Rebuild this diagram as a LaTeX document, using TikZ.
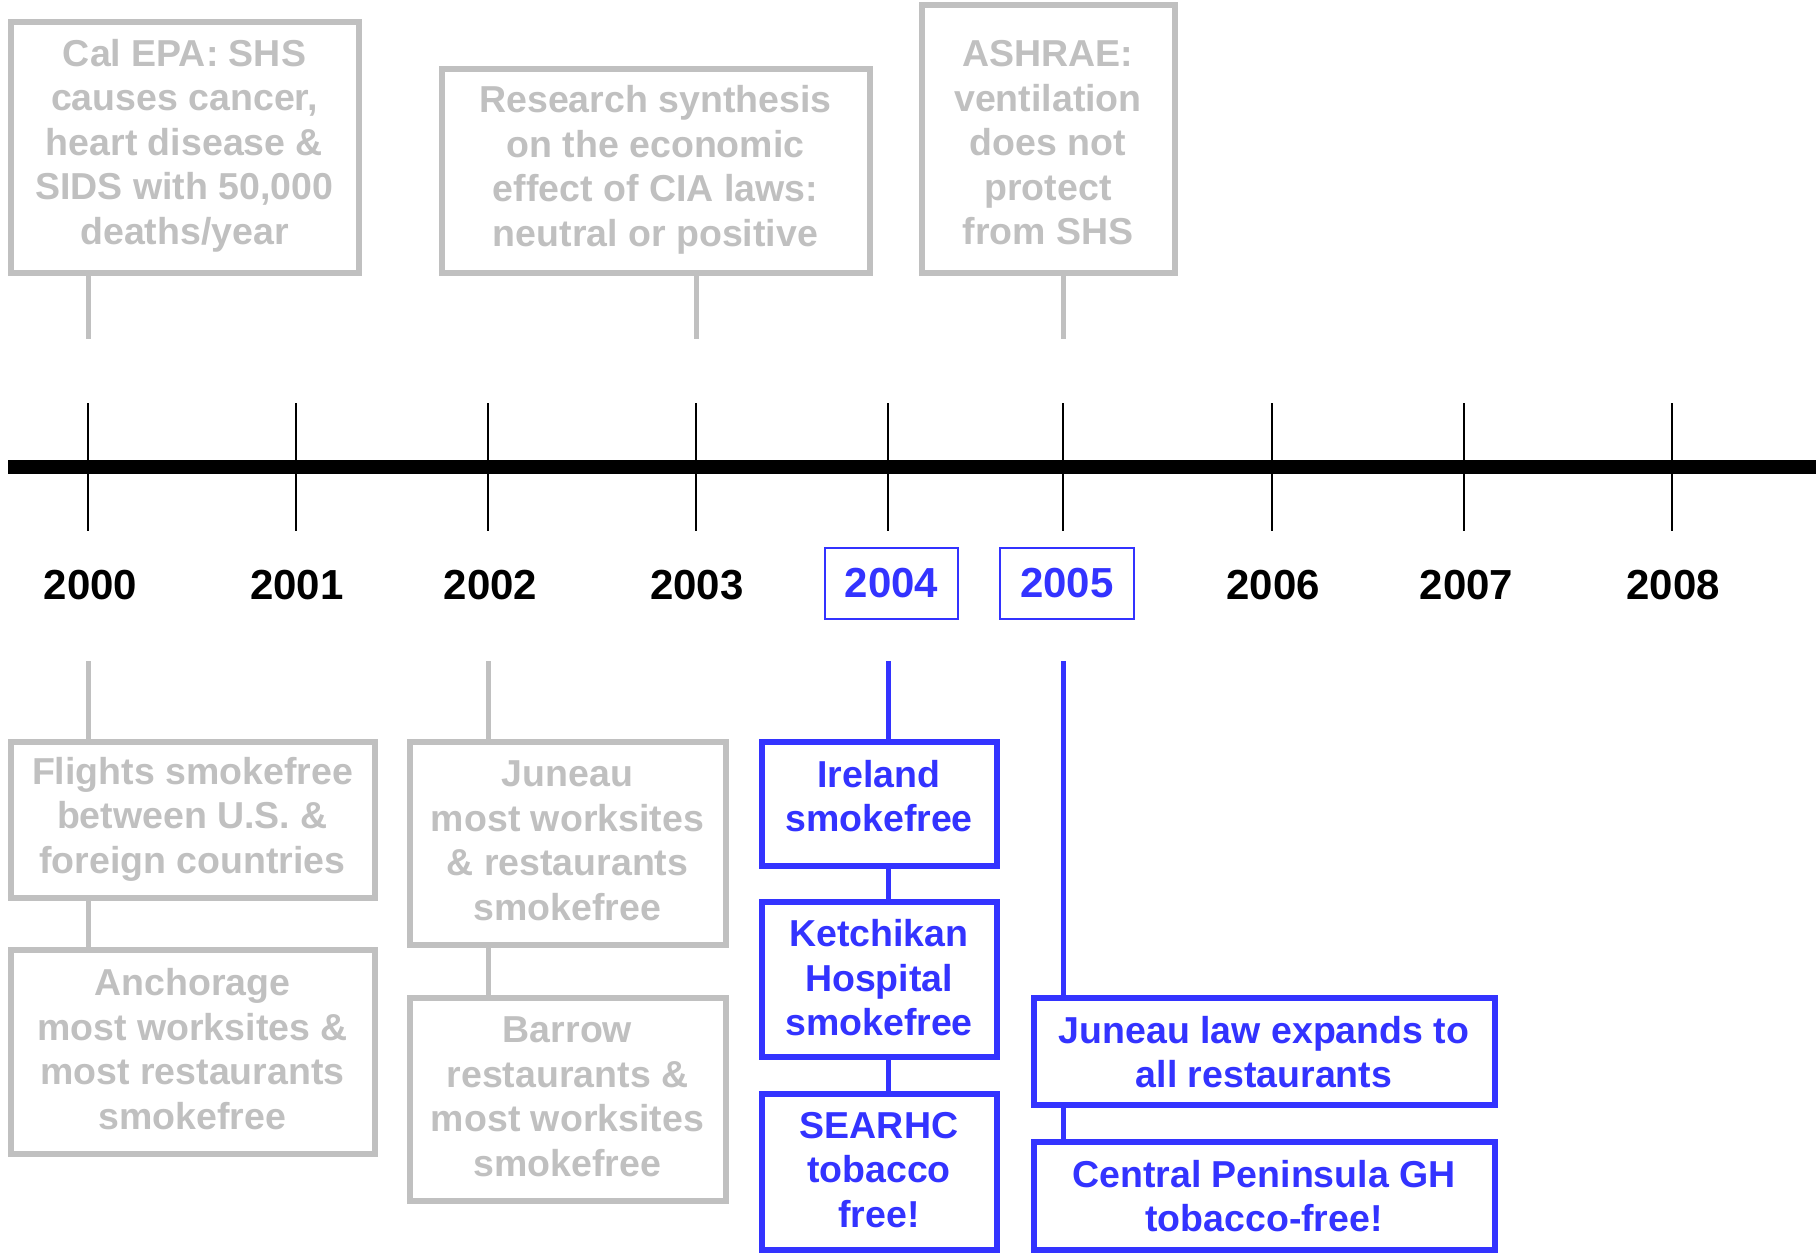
\documentclass[tikz,border=0pt]{standalone}
\usepackage{fontspec}
\setmainfont{Liberation Sans}
\definecolor{gry}{RGB}{192,192,192}
\definecolor{blu}{RGB}{51,51,255}
\begin{document}
\begin{tikzpicture}[x=1pt,y=-1pt,
  gbox/.style={draw=gry,line width=6pt,inner sep=0pt,fill=white},
  bbox/.style={draw=blu,line width=6pt,inner sep=0pt,fill=white},
  ybox/.style={draw=blu,line width=2pt,inner sep=0pt},
  gline/.style={draw=gry,line width=5pt},
  bline/.style={draw=blu,line width=5pt},
  gtxt/.style={align=center,text=gry,inner sep=0pt,font=\fontsize{37.5}{44.5}\selectfont\bfseries},
  btxt/.style={align=center,text=blu,inner sep=0pt,font=\fontsize{37.5}{44.5}\selectfont\bfseries},
  yr/.style={inner sep=0pt,font=\fontsize{42}{48}\selectfont\bfseries},
  tickline/.style={draw=black,line width=2pt}
]
\useasboundingbox (0,0) rectangle (1818,1257);

% timeline
\coordinate (tlL) at (8,467);
\coordinate (tlR) at (1816,467);
\draw[line width=14pt] (tlL) -- (tlR);
\foreach \x in {88,296,488,696,888,1063,1272,1464,1672}{
  \draw[tickline] (\x,403) -- (\x,531);
}

% year labels
\node[yr] (y2000) at (90.4,585) {2000};
\node[yr] (y2001) at (296.8,585) {2001};
\node[yr] (y2002) at (490.4,585) {2002};
\node[yr] (y2003) at (696.8,585) {2003};
\node[ybox,minimum width=133pt,minimum height=71pt] (b2004) at (891.5,583.5) {};
\node[yr,text=blu] (y2004) at (b2004.center) {2004};
\node[ybox,minimum width=134pt,minimum height=71pt] (b2005) at (1067,583.5) {};
\node[yr,text=blu] (y2005) at (b2005.center) {2005};
\node[yr] (y2006) at (1273,585) {2006};
\node[yr] (y2007) at (1466.6,585) {2007};
\node[yr] (y2008) at (1673,585) {2008};

% connector anchors at the timeline side
\coordinate (u2000) at (88,339);
\coordinate (u2003) at (696,339);
\coordinate (u2005) at (1063,339);
\coordinate (d2000) at (88,661);
\coordinate (d2002) at (488,661);
\coordinate (d2004) at (888,661);
\coordinate (d2005) at (1063,661);

% upper boxes
\node[gbox,minimum width=348pt,minimum height=251pt] (calepa) at (184.5,148) {};
\node[gtxt] at (184.5,145.5) {Cal EPA: SHS\\causes cancer,\\heart disease \&\\SIDS with 50,000\\deaths/year};
\node[gbox,minimum width=428pt,minimum height=204pt] (research) at (655.5,171.5) {};
\node[gtxt] at (655.5,170) {Research synthesis\\on the economic\\effect of CIA laws:\\neutral or positive};
\node[gbox,minimum width=253pt,minimum height=268pt] (ashrae) at (1048,139.5) {};
\node[gtxt] at (1048,143) {ASHRAE:\\ventilation\\does not\\protect\\from SHS};

\draw[gline] (u2000) -- (u2000 |- calepa.south);
\draw[gline] (u2003) -- (u2003 |- research.south);
\draw[gline] (u2005) -- (u2005 |- ashrae.south);

% lower gray boxes
\node[gbox,minimum width=364pt,minimum height=156pt] (flights) at (192.5,819.5) {};
\node[gtxt] at (192.5,819) {Flights smokefree\\between U.S. \&\\foreign countries};
\node[gbox,minimum width=364pt,minimum height=204pt] (anchorage) at (192.5,1051.5) {};
\node[gtxt] at (192.5,1049) {Anchorage\\most worksites \&\\most restaurants\\smokefree};
\node[gbox,minimum width=316pt,minimum height=203pt] (juneau) at (567.5,843) {};
\node[gtxt] at (567.5,841) {Juneau\\most worksites\\\& restaurants\\smokefree};
\node[gbox,minimum width=316pt,minimum height=203pt] (barrow) at (567.5,1099) {};
\node[gtxt] at (567.5,1097) {Barrow\\restaurants \&\\most worksites\\smokefree};

\draw[gline] (d2000) -- (d2000 |- flights.north);
\draw[gline] (flights.south -| d2000) -- (anchorage.north -| d2000);
\draw[gline] (d2002) -- (d2002 |- juneau.north);
\draw[gline] (juneau.south -| d2002) -- (barrow.north -| d2002);

% lower blue boxes
\node[bbox,minimum width=235pt,minimum height=124pt] (ireland) at (879,803.5) {};
\node[btxt] at (879,796) {Ireland\\smokefree};
\node[bbox,minimum width=235pt,minimum height=155pt] (ketchikan) at (879,979) {};
\node[btxt] at (879,978) {Ketchikan\\Hospital\\smokefree};
\node[bbox,minimum width=235pt,minimum height=156pt] (searhc) at (879,1171.5) {};
\node[btxt] at (879,1170) {SEARHC\\tobacco\\free!};
\node[bbox,minimum width=461pt,minimum height=107pt] (juneaulaw) at (1264,1051) {};
\node[btxt] at (1264,1052) {Juneau law expands to\\all restaurants};
\node[bbox,minimum width=461pt,minimum height=108pt] (central) at (1264,1195.5) {};
\node[btxt] at (1264,1196) {Central Peninsula GH\\tobacco-free!};

\draw[bline] (d2004) -- (d2004 |- ireland.north);
\draw[bline] (ireland.south -| d2004) -- (ketchikan.north -| d2004);
\draw[bline] (ketchikan.south -| d2004) -- (searhc.north -| d2004);
\draw[bline] (d2005) -- (d2005 |- juneaulaw.north);
\draw[bline] (juneaulaw.south -| d2005) -- (central.north -| d2005);
\end{tikzpicture}
\end{document}
